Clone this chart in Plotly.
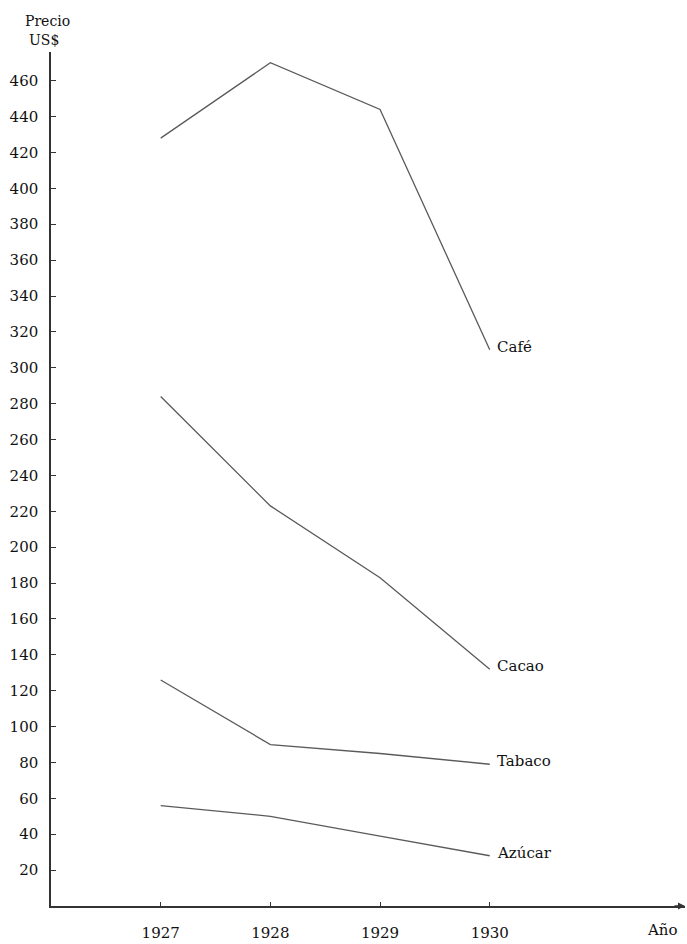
import plotly.graph_objects as go

years = [1927, 1928, 1929, 1930]
cafe = [428, 470, 444, 310]
cacao = [284, 223, 183, 132]
tabaco = [126, 90, 85, 79]
azucar = [56, 50, 39, 28]

series_names = ["Café", "Cacao", "Tabaco", "Azúcar"]
series_values = [cafe, cacao, tabaco, azucar]

y_ticks = list(range(20, 461, 20))
x_ticks = years

FONT = "DejaVu Serif"
LINE_COLOR = "#5a5a5a"
TEXT_COLOR = "#111111"
AXIS_COLOR = "#333333"

fig = go.Figure()
for name, vals in zip(series_names, series_values):
    fig.add_trace(go.Scatter(
        x=years, y=vals, mode="lines", name=name,
        line=dict(color=LINE_COLOR, width=1.3),
        showlegend=False, hoverinfo="x+y+name",
    ))
    fig.add_annotation(
        x=years[-1], y=vals[-1], xref="x", yref="y",
        text=name, showarrow=False, xanchor="left", yanchor="middle",
        xshift=5, yshift=3,
        font=dict(family=FONT, size=15, color=TEXT_COLOR),
    )

# axis titles
fig.add_annotation(xref="paper", yref="paper", x=-0.006, y=1, text="Precio",
                   showarrow=False, xanchor="center", yanchor="middle", yshift=31,
                   font=dict(family=FONT, size=14, color=TEXT_COLOR))
fig.add_annotation(xref="paper", yref="paper", x=-0.011, y=1, text="US$",
                   showarrow=False, xanchor="center", yanchor="middle", yshift=12,
                   font=dict(family=FONT, size=14, color=TEXT_COLOR))
fig.add_annotation(xref="paper", yref="paper", x=0.964, y=0, text="Año",
                   showarrow=False, xanchor="center", yanchor="middle", yshift=-24,
                   font=dict(family=FONT, size=15, color=TEXT_COLOR))
# arrowhead at end of x axis
fig.add_annotation(xref="paper", yref="paper", x=1.0, y=0, ax=-12, ay=0,
                   text="", showarrow=True, arrowhead=2, arrowsize=1, arrowwidth=1.4,
                   arrowcolor=AXIS_COLOR)

fig.update_xaxes(
    range=[1926, 1931.78], tickvals=x_ticks, ticktext=[str(v) for v in x_ticks],
    showline=True, linecolor=AXIS_COLOR, linewidth=1.5,
    ticks="inside", ticklen=4, tickcolor=AXIS_COLOR, tickwidth=1.2,
    showgrid=False, zeroline=False, ticklabelstandoff=12,
    tickfont=dict(family=FONT, size=15, color=TEXT_COLOR),
)
fig.update_yaxes(
    range=[0, 476], tickvals=y_ticks, ticktext=[str(v) for v in y_ticks],
    showline=True, linecolor=AXIS_COLOR, linewidth=1.5,
    ticks="inside", ticklen=5, tickcolor=AXIS_COLOR, tickwidth=1.2,
    showgrid=False, zeroline=False, ticklabelstandoff=8,
    tickfont=dict(family=FONT, size=15, color=TEXT_COLOR),
)
fig.update_layout(
    width=687, height=944, autosize=False,
    margin=dict(l=51, r=2, t=52, b=34),
    paper_bgcolor="white", plot_bgcolor="white",
)
fig.write_html(
    "out.html",
    config={"displayModeBar": False},
    post_script="document.body.style.margin='0';document.body.style.overflow='hidden';",
)
